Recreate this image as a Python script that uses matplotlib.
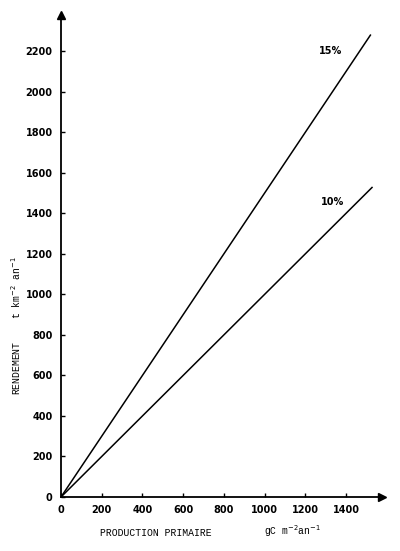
import numpy as np
import matplotlib
matplotlib.use('Agg')
import matplotlib.pyplot as plt

# droites de rendement (production primaire -> rendement)
x_15 = [0, 1520]
y_15 = [0, 2280]
x_10 = [0, 1528]
y_10 = [0, 1528]
xticks = [0, 200, 400, 600, 800, 1000, 1200, 1400]
yticks = [0, 200, 400, 600, 800, 1000, 1200, 1400, 1600, 1800, 2000, 2200]

fig = plt.figure(figsize=(4, 5.51), dpi=100)
ax = fig.add_axes([0.1525, 0.098, 0.8025, 0.875])
ax.plot(x_15, y_15, color='black', lw=1.1)
ax.plot(x_10, y_10, color='black', lw=1.1)
ax.set_xlim(0, 1577)
ax.set_ylim(0, 2380)

for s in ['top', 'right']:
    ax.spines[s].set_visible(False)
for s in ['left', 'bottom']:
    ax.spines[s].set_linewidth(1.3)
# fleches au bout des axes
ax.plot(1, 0, '>k', ms=6, transform=ax.transAxes, clip_on=False)
ax.plot(0, 1, '^k', ms=6, transform=ax.transAxes, clip_on=False)

ax.set_xticks(xticks)
ax.set_yticks(yticks)
ax.tick_params(direction='in', length=3, width=1, labelsize=7, pad=6)
for lab in ax.get_xticklabels() + ax.get_yticklabels():
    lab.set_fontweight('bold')

ax.text(1323, 2200, '15%', fontsize=7, fontweight='bold', ha='center', va='center')
ax.text(1336, 1455, '10%', fontsize=7, fontweight='bold', ha='center', va='center')

fig.text(0.04, 0.41, r'RENDEMENT    t km$^{-2}$ an$^{-1}$', rotation=90,
         family='Liberation Mono', fontsize=7, ha='center', va='center')
fig.text(0.25, 0.033, 'PRODUCTION PRIMAIRE', family='Liberation Mono',
         fontsize=7, ha='left', va='center')
fig.text(0.66, 0.037, r'gC m$^{-2}$an$^{-1}$', family='Liberation Mono',
         fontsize=7, ha='left', va='center')

fig.savefig('out.png', dpi=100)
